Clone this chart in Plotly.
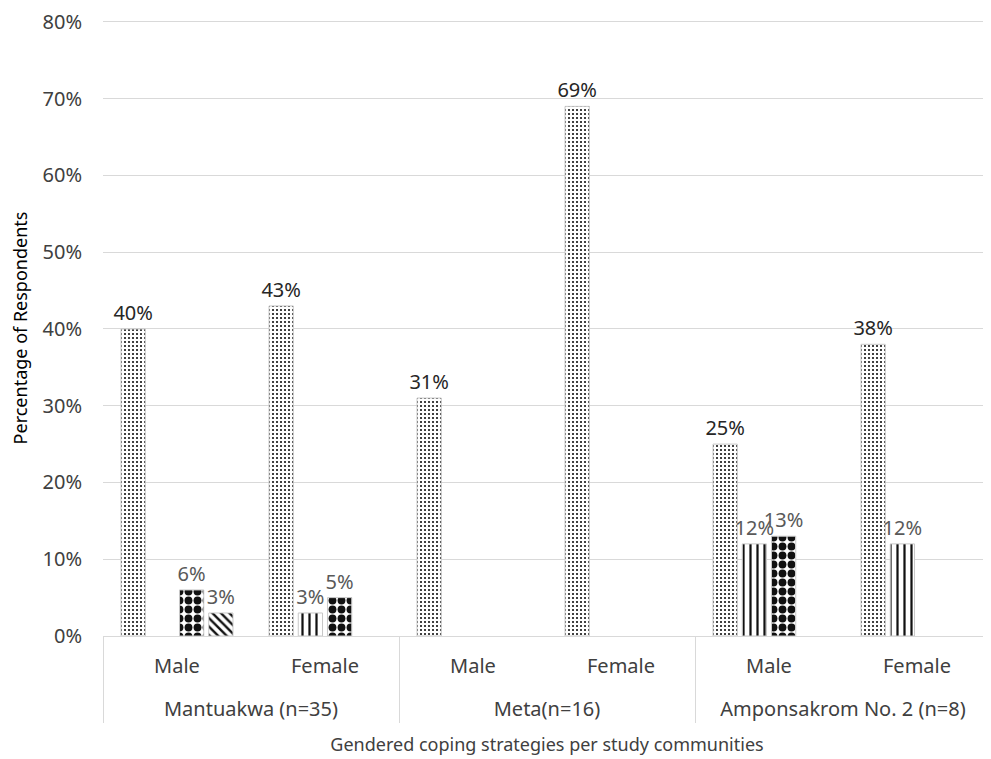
import plotly.graph_objects as go

communities = ["Mantuakwa (n=35)", "Meta(n=16)", "Amponsakrom No. 2 (n=8)"]
genders = ["Male", "Female"]

# values per (community, gender) in order: MantM, MantF, MetaM, MetaF, AmpM, AmpF
s_dotted = [40, 43, 31, 69, 25, 38]
s_vertical = [0, 3, 0, 0, 12, 12]
s_checker = [6, 5, 0, 0, 13, 0]
s_diagonal = [3, 0, 0, 0, 0, 0]

series_names = ["Strategy A", "Strategy B", "Strategy C", "Strategy D"]

FONT = "Noto Sans"

x_top = [c for c in communities for g in genders]
# trailing blank line gives the second label row extra room below
x_bot = [g + "<br> " for c in communities for g in genders]

styles = [
    dict(shape=".", size=4, solidity=0.22, label="#262626"),
    dict(shape="|", size=7, solidity=0.32, label="#595959"),
    dict(shape=".", size=9, solidity=0.6, label="#595959"),
    dict(shape="\\", size=6, solidity=0.4, label="#595959"),
]

fig = go.Figure()
for name, vals, st in zip(series_names, [s_dotted, s_vertical, s_checker, s_diagonal], styles):
    fig.add_trace(go.Bar(
        name=name,
        x=[x_top, x_bot],
        y=[v if v else None for v in vals],
        text=[f"{v}%" if v else "" for v in vals],
        textposition="outside",
        textfont=dict(family=FONT, size=20, color=st["label"]),
        cliponaxis=False,
        constraintext="none",
        marker=dict(
            color="white",
            line=dict(color="#c8c8c8", width=1),
            pattern=dict(shape=st["shape"], size=st["size"], solidity=st["solidity"],
                         fgcolor="#111111", fgopacity=1, bgcolor="white"),
        ),
    ))

fig.update_layout(
    width=991, height=759,
    margin=dict(l=95, r=8, t=12, b=131),
    paper_bgcolor="white", plot_bgcolor="white",
    barmode="group", bargap=0.21, bargroupgap=0.17,
    showlegend=False,
    font=dict(family=FONT, size=20, color="#404040"),
    xaxis=dict(
        type="multicategory",
        showline=True, linecolor="#d9d9d9", linewidth=1,
        showdividers=True, dividercolor="#d9d9d9", dividerwidth=1,
        ticklabelstandoff=12,
        tickfont=dict(family=FONT, size=20, color="#404040"),
        title=dict(text="Gendered coping strategies per study communities",
                   font=dict(family=FONT, size=18, color="#404040"), standoff=17),
    ),
    yaxis=dict(
        range=[0, 80.25], tick0=0, dtick=10, ticksuffix="%",
        showgrid=True, gridcolor="#d9d9d9", gridwidth=1,
        zeroline=False, showline=False, automargin=False,
        ticklabelstandoff=20, ticklabeloverflow="allow",
        tickfont=dict(family=FONT, size=20, color="#404040"),
        title=dict(text="Percentage of Respondents",
                   font=dict(family=FONT, size=18, color="#000000"), standoff=13),
    ),
)

fig.write_html("out.html")
